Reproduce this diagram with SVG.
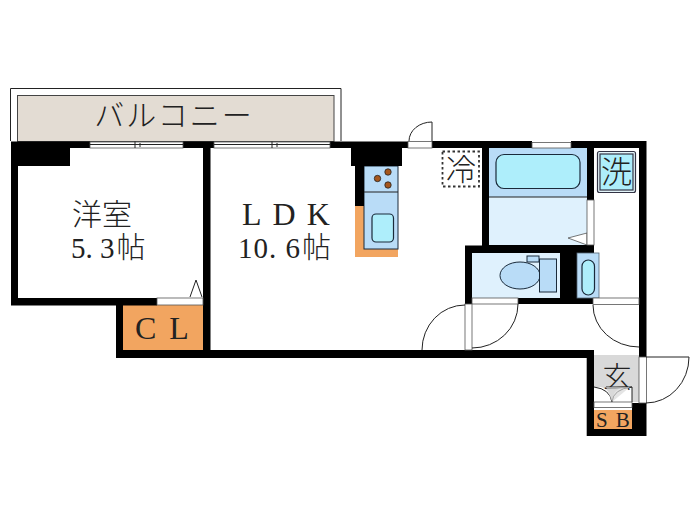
<svg xmlns="http://www.w3.org/2000/svg" width="700" height="525" viewBox="0 0 700 525">
<style>
.w{fill:#000}
.o{fill:#f2a560}
.ln{fill:none;stroke:#222;stroke-width:1}
.wh{fill:#fff;stroke:#555;stroke-width:.8}
.k{fill:#b9dcf7;stroke:#1a2a3a;stroke-width:1}
.c{fill:#aeeefb;stroke:#1a2a3a;stroke-width:1.2}
.l{fill:#dff1fd}
.t{font-family:"Liberation Serif","Noto Sans CJK JP",serif;font-weight:300;fill:#222}
.j{font-family:"Noto Sans CJK JP","Liberation Serif",serif;font-weight:300;fill:#222}
</style>
<rect width="700" height="525" fill="#fff"/>
<g id="balcony">
<path class="ln" d="M10.500 141V88.500H341V141" stroke="#555"/>
<rect x="17.500" y="95.500" width="316.500" height="46" fill="#e3dcd3" stroke="#444" stroke-width="1"/>
<text class="j" x="174" y="126" font-size="30" text-anchor="middle" letter-spacing="2">バルコニー</text>
</g>
<g id="western-room">
<text class="t" x="102" y="225" font-size="30" text-anchor="middle">洋室</text>
<text class="t" x="71" y="258" font-size="29">5. 3<tspan dx="2" font-size="29">帖</tspan></text>
</g>
<g id="ldk">
<text class="t" x="242" y="225" font-size="32" letter-spacing="11">LDK</text>
<text class="t" x="238" y="258" font-size="29" letter-spacing="1">10. 6<tspan dx="1" font-size="29">帖</tspan></text>
</g>
<g id="closet">
<rect class="o" x="123" y="305" width="80" height="45"/>
<text class="t" x="135" y="339" font-size="32" letter-spacing="13">CL</text>
</g>
<g id="kitchen">
<rect class="o" x="355" y="205" width="43" height="52"/>
<rect class="k" x="364" y="166" width="34" height="83"/>
<path class="ln" d="M364 192H398"/>
<rect class="c" x="372" y="214" width="21.500" height="28" rx="4"/>
<g fill="#a5561c" stroke="#222" stroke-width=".8">
<circle cx="388" cy="172" r="3.200"/><circle cx="377.500" cy="178.500" r="3.200"/><circle cx="388" cy="185" r="3.200"/>
</g>
</g>
<g id="fridge">
<rect x="442.500" y="151.500" width="36.500" height="35" fill="#fff" stroke="#333" stroke-width="1.800" stroke-dasharray="2.500 2.500"/>
<text class="j" x="461" y="180" font-size="30" text-anchor="middle">冷</text>
</g>
<g id="bath">
<rect class="l" x="489" y="197" width="98" height="48"/>
<rect x="489" y="148" width="98" height="49" fill="#b9dcf7"/>
<path class="ln" d="M489 197H587" stroke-width="1.200"/>
<rect class="c" x="496" y="154.500" width="84" height="34" rx="8"/>
<path class="wh" d="M568 238L587 233V245Z"/>
</g>
<g id="washer">
<rect x="597.500" y="151.500" width="38" height="41" rx="2" fill="#e3f5fa" stroke="#334" stroke-width="1.200"/>
<rect x="600" y="154" width="33" height="36" fill="#aeeefb" stroke="#334" stroke-width="1.200"/>
<text class="j" x="616.500" y="183" font-size="31" text-anchor="middle">洗</text>
</g>
<g id="toilet">
<rect class="l" x="472" y="253" width="88" height="45"/>
<rect class="k" x="527" y="256" width="12" height="6"/>
<ellipse class="k" cx="520" cy="275.500" rx="20" ry="13.500"/>
<rect class="k" x="539.500" y="259" width="17" height="33"/>
</g>
<g id="entry">
<rect x="594" y="355" width="45" height="47" fill="#d9d9d9"/>
<path d="M594 387L601 387Q611 389 612 402Q613 389 623 387L632 387V402H594Z" fill="#fff"/>
<path class="ln" d="M594 387Q610 389 612 402Q613 389 632 387V402M632 387H606" stroke-width="1.200"/>
<text class="j" x="617" y="388" font-size="29" text-anchor="middle">玄</text>
<path d="M606 387L630 387L612 402Z" fill="#d9d9d9" opacity=".7"/>
</g>
<g id="shoe-box">
<rect class="o" x="594" y="410" width="38" height="19"/>
<text class="t" x="596" y="427" font-size="21" letter-spacing="8">SB</text>
</g>
<g id="walls">
<path class="w" d="M11 141.500H90V148H70V166H18V298H157V305.500H123V350H203V148H183V141.500H214V148H210.500V350H465V304H472V350H594V358H116V305.500H11Z"/>
<path class="w" d="M330 141.500H408V148H402V166H364V206H355V166H351V148H330Z"/>
<path class="w" d="M432 141H532V148H489V245H587V200H594V253H577V298H593V304H518V298H560V253H472V304H465V245.500H482V148H432Z"/>
<path class="w" d="M571 141H646.500V357H639V148H594V200H587V148H571Z"/>
<path class="w" d="M586.700 350H594V429H632V403H646.500V436H586.700Z"/>
</g>
<g id="basin">
<rect x="577" y="253" width="22" height="45" fill="#b9dcf7" stroke="#567" stroke-width=".8"/>
<rect class="c" x="582" y="260" width="12.500" height="35" rx="6.200"/>
</g>
<g id="openings">
<g class="wh">
<rect x="90" y="142" width="93" height="6"/>
<rect x="214" y="142" width="116" height="6"/>
<rect x="408" y="141.500" width="24" height="6.500"/>
<rect x="532" y="142.500" width="39" height="5.500"/>
<rect x="587" y="200" width="7" height="45"/>
<rect x="157" y="298" width="46" height="7"/>
<rect x="472" y="298" width="46" height="6"/>
<rect x="593" y="298" width="46" height="6.500"/>
<rect x="465" y="304" width="7" height="46"/>
<rect x="639" y="357" width="7.500" height="46"/>
<rect x="594" y="402" width="38" height="5.500"/>
</g>
<path class="ln" d="M90 144.500H183M214 144.500H330M135 141.500V148M140 143V147M272 141.500V148M277 143V147"/>
<path class="ln" d="M190 297L196 280L202 297"/>
</g>
<g id="connectors">
<path class="ln" d="M409 141A23 19 0 0 1 432 122V141"/>
<path class="ln" d="M422 350A43 45 0 0 1 465 305"/>
<path class="ln" d="M518 304A46 44 0 0 1 472 348"/>
<path class="ln" d="M593 305A46 42 0 0 0 639 347"/>
<path class="ln" d="M646 403A43 46 0 0 0 689 357H646"/>
</g>
</svg>
